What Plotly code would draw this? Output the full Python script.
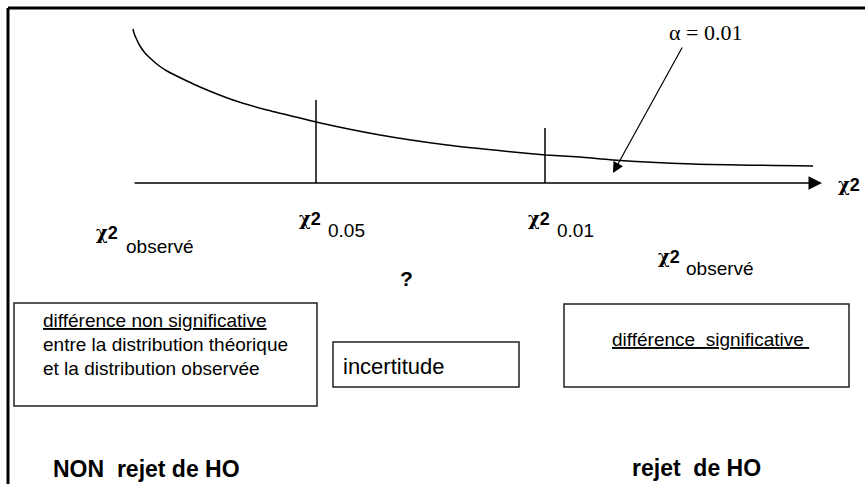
import plotly.graph_objects as go

# ---- data (pixel space of the diagram) ----
curve_x = [133, 134, 136, 140, 145, 150, 158, 167, 187, 200, 233, 267, 300, 316, 380, 447, 513, 546, 580, 613, 693, 813]
curve_y = [29, 33, 38, 46, 53, 58, 65, 71, 81, 87, 100, 110, 118, 122, 135, 145, 152, 155, 157, 160, 164, 166]

crit_x = [316, 545]
crit_top = [100, 128]
crit_labels = ["0.05", "0.01"]

axis_start = 133
axis_end = 822
axis_level = 183

alpha_label = "α = 0.01"
obs_label = "observé"
chi_label = "<span style='font-family:DejaVu Serif'>χ</span>2"

box1_lines = ["<u>différence non significative</u>",
              "entre la distribution théorique",
              "et la distribution observée"]
box2_text = "incertitude"
box3_text = "<u>différence\u00a0 significative\u00a0</u>"
left_decision = "NON\u00a0 rejet de HO"
right_decision = "rejet\u00a0 de HO"
question = "?"

SANS = "Liberation Sans, Arial, sans-serif"
SERIF = "Liberation Serif, Times New Roman, serif"
BLACK = "#000000"

fig = go.Figure()

# density curve
fig.add_trace(go.Scatter(x=curve_x, y=curve_y, mode="lines",
                         line=dict(color=BLACK, width=1.5, shape="spline", smoothing=0.6),
                         hoverinfo="skip"))

# critical value lines
for cx, ct in zip(crit_x, crit_top):
    fig.add_trace(go.Scatter(x=[cx, cx], y=[ct, axis_level], mode="lines",
                             line=dict(color=BLACK, width=1.5), hoverinfo="skip"))

shapes = []
# outer frame (top and left only)
shapes.append(dict(type="line", x0=8, y0=8, x1=865, y1=8, xref="x", yref="y",
                   line=dict(color=BLACK, width=3)))
shapes.append(dict(type="line", x0=8, y0=8, x1=8, y1=484, xref="x", yref="y",
                   line=dict(color=BLACK, width=3)))
# boxes
for (x0, y0, x1, y1) in [(14, 303, 317, 406), (333, 342, 519, 387), (564, 304, 849, 387)]:
    shapes.append(dict(type="rect", x0=x0, y0=y0, x1=x1, y1=y1, xref="x", yref="y",
                       line=dict(color="#222222", width=1.5), fillcolor="rgba(0,0,0,0)"))

annotations = []
# x axis arrow
annotations.append(dict(x=axis_end, y=axis_level, ax=axis_start, ay=axis_level,
                        xref="x", yref="y", axref="x", ayref="y", text="",
                        showarrow=True, arrowhead=2, arrowsize=1.8, arrowwidth=1.5,
                        arrowcolor=BLACK))
# alpha arrow
annotations.append(dict(x=613, y=173, ax=683, ay=46,
                        xref="x", yref="y", axref="x", ayref="y", text="",
                        showarrow=True, arrowhead=2, arrowsize=1.8, arrowwidth=1.2,
                        arrowcolor=BLACK))


def txt(x, y, s, size, family=SANS, xanchor="left", bold=False):
    if bold:
        s = "<b>" + s + "</b>"
    annotations.append(dict(x=x, y=y, xref="x", yref="y", text=s, showarrow=False,
                            xanchor=xanchor, yanchor="middle",
                            font=dict(family=family, size=size, color=BLACK)))


txt(705, 32, alpha_label, 22, family=SERIF, xanchor="center")
txt(836, 184, chi_label, 18, bold=True)

# chi2 labels with subscripts
txt(94, 232, chi_label, 18, bold=True)
txt(124, 246, obs_label, 19)
for cx, lab in zip(crit_x, crit_labels):
    txt(cx - 19, 218, chi_label, 18, bold=True)
    txt(cx + 10, 230, lab, 19)
txt(656, 256, chi_label, 18, bold=True)
txt(684, 268, obs_label, 19)

txt(406, 278, question, 21, xanchor="center", bold=True)

for i, line in enumerate(box1_lines):
    txt(41, 320 + 24 * i, line, 19)
txt(341, 366, box2_text, 22)
txt(610, 339, box3_text, 19)

txt(51, 469, left_decision, 23, bold=True)
txt(630, 468, right_decision, 23, bold=True)

fig.update_layout(
    width=865, height=484,
    margin=dict(l=0, r=0, t=0, b=0),
    paper_bgcolor="white", plot_bgcolor="white",
    showlegend=False,
    xaxis=dict(range=[0, 865], visible=False, fixedrange=True),
    yaxis=dict(range=[484, 0], visible=False, fixedrange=True),
    shapes=shapes, annotations=annotations,
)

fig.write_html(
    "out.html",
    config={"displayModeBar": False},
    post_script="document.body.style.margin='0';document.body.style.overflow='hidden';",
)
